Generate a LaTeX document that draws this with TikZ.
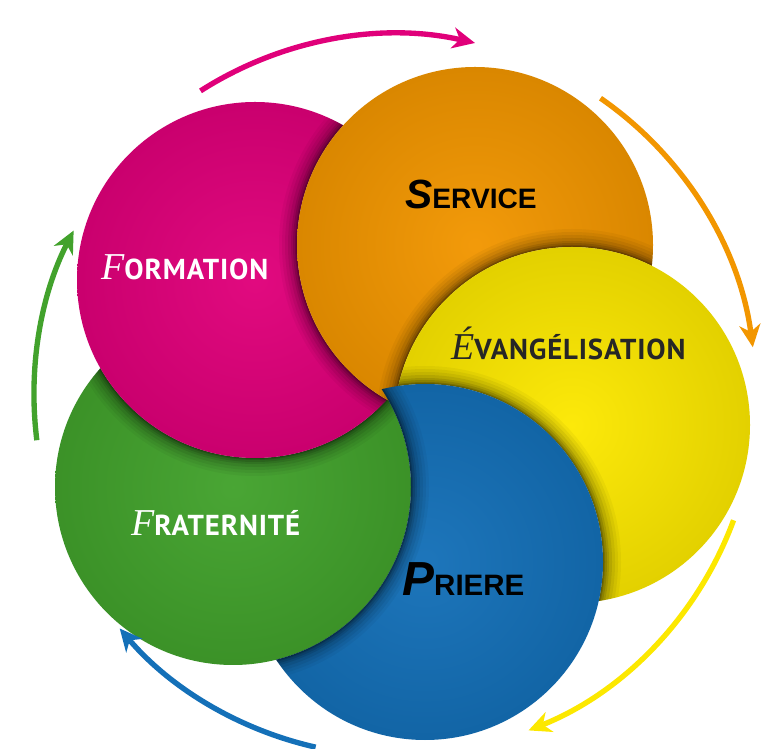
\documentclass[tikz,border=0pt]{standalone}
\usepackage{fontspec}
\usepackage{tikz}
\usetikzlibrary{arrows.meta}
\setmainfont{Liberation Serif}
\newfontfamily\capsans{PT Sans}[LetterSpace=3]
\newfontfamily\arial{Liberation Sans}
\definecolor{M}{RGB}{224,0,122}
\definecolor{O}{RGB}{242,150,0}
\definecolor{Y}{RGB}{252,232,0}
\definecolor{B}{RGB}{20,112,184}
\definecolor{G}{RGB}{66,162,44}
\newcommand{\rad}{178}
% one disc, cut where the disc #3 lies on it, with the shadow of #3
\newcommand{\bubble}[3]{
  \begin{scope}
    \clip (#1) circle[radius=\rad];
    \clip (-20,-20) -- (790,-20) -- (790,770) -- (-20,770) -- cycle
      (#3) ++(\rad,0) arc[start angle=0, end angle=-360, radius=\rad] -- cycle;
    \shade[inner color=#2!96!white, outer color=#2!90!black] (#1) circle[radius=\rad];
    \foreach \w/\o in {18/.04,15/.05,12/.06,9/.08,6/.1,4/.12,2/.15,1/.15}{
      \fill[black, opacity=\o] (#3) circle[radius=\rad+\w];
    }
  \end{scope}
}
\newcommand{\turnarrow}[3]{\draw[turn, #1] (ring) ++(#2:361) arc[start angle=#2, end angle=#3, radius=361];}

\begin{document}
\begin{tikzpicture}[x=0.025cm, y=0.025cm,
  turn/.style={line width=3.8pt, -{Stealth[length=16pt, width=15pt, inset=5pt]}},
  word/.style={anchor=base west, inner sep=0pt}]
\useasboundingbox (0,0) rectangle (767,748);
\coordinate (ring) at (395,353);
\coordinate (form) at (255,468);
\coordinate (serv) at (475,503);
\coordinate (evan) at (572,323);
\coordinate (prie) at (425,186);
\coordinate (frat) at (233,261);
\bubble{frat}{G}{form}
\bubble{form}{M}{serv}
\bubble{serv}{O}{evan}
\bubble{evan}{Y}{prie}
\bubble{prie}{B}{frat}
\turnarrow{M}{122.6}{77.2}
\turnarrow{O}{55.3}{7.6}
\turnarrow{Y}{-20.3}{-68.3}
\turnarrow{B}{-102.7}{-139.7}
\turnarrow{G}{187.2}{152.9}
\node[word, white] (formtxt) at (101,468) {\fontsize{27}{27}\selectfont\itshape F\fontsize{20.5}{20.5}\selectfont\upshape\capsans\bfseries ORMATION};
\node[word] (servtxt) at (405,539) {\arial\bfseries\fontsize{29}{29}\selectfont\itshape S\upshape\fontsize{20}{20}\selectfont ERVICE};
\node[word, black!85] (evantxt) at (451,388) {\fontsize{27}{27}\selectfont\itshape É\fontsize{20.5}{20.5}\selectfont\upshape\capsans\bfseries VANGÉLISATION};
\node[word, white] (frattxt) at (131,212) {\fontsize{27}{27}\selectfont\itshape F\fontsize{20.5}{20.5}\selectfont\upshape\capsans\bfseries RATERNITÉ};
\node[word] (prietxt) at (402,152) {\arial\bfseries\fontsize{34}{34}\selectfont\itshape P\upshape\fontsize{21}{21}\selectfont RIERE};
\end{tikzpicture}
\end{document}
